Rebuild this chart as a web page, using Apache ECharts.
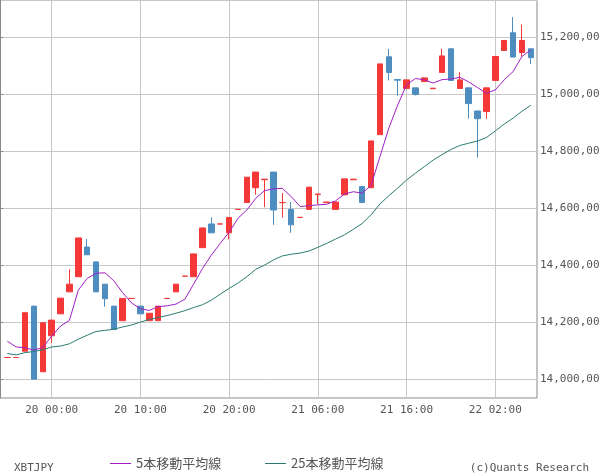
<!DOCTYPE html>
<html>
<head>
<meta charset="utf-8">
<script src="https://cdn.jsdelivr.net/npm/echarts@6/dist/echarts.min.js"></script>
<style>html,body{margin:0;padding:0;background:#fff}#c{width:600px;height:475px}</style>
</head>
<body>
<div id="c"></div>
<script>
var categories = [
 "19 19:00","19 20:00","19 21:00","19 22:00","19 23:00",
 "20 00:00","20 01:00","20 02:00","20 03:00","20 04:00","20 05:00","20 06:00","20 07:00","20 08:00","20 09:00",
 "20 10:00","20 11:00","20 12:00","20 13:00","20 14:00","20 15:00","20 16:00","20 17:00","20 18:00","20 19:00",
 "20 20:00","20 21:00","20 22:00","20 23:00","21 00:00","21 01:00","21 02:00","21 03:00","21 04:00","21 05:00",
 "21 06:00","21 07:00","21 08:00","21 09:00","21 10:00","21 11:00","21 12:00","21 13:00","21 14:00","21 15:00",
 "21 16:00","21 17:00","21 18:00","21 19:00","21 20:00","21 21:00","21 22:00","21 23:00","22 00:00","22 01:00",
 "22 02:00","22 03:00","22 04:00","22 05:00","22 06:00"
];
var openPrices = [
 14077000,14077000,14099000,14257000,14027000,14153000,14230000,14307000,14360000,14464000,
 14412000,14334000,14257000,14206000,14284000,14257000,14206000,14206000,14284000,14307000,
 14362000,14360000,14462000,14545000,14545000,14514000,14596000,14620000,14672000,14700000,
 14727000,14620000,14596000,14568000,14596000,14648000,14620000,14596000,14647000,14700000,
 14676000,14672000,14858000,15131000,15051000,15020000,15022000,15044000,15019000,15076000,
 15159000,15020000,15022000,14941000,14939000,15048000,15153000,15215000,15146000,15159000
];
var closePrices = [
 14077000,14077000,14234000,14001000,14199000,14208000,14285000,14334000,14496000,14437000,
 14307000,14283000,14175000,14284000,14284000,14230000,14232000,14257000,14284000,14334000,
 14362000,14440000,14531000,14514000,14545000,14568000,14596000,14709000,14727000,14702000,
 14594000,14620000,14542000,14568000,14674000,14650000,14622000,14622000,14703000,14702000,
 14620000,14836000,15106000,15076000,15049000,15050000,14999000,15057000,15021000,15134000,
 15048000,15050000,14967000,14914000,15022000,15132000,15188000,15130000,15188000,15128000
];
var lowPrices = [
 14077000,14077000,14099000,14001000,14027000,14128000,14230000,14307000,14360000,14437000,
 14307000,14255000,14175000,14206000,14284000,14230000,14206000,14206000,14284000,14307000,
 14362000,14360000,14462000,14514000,14545000,14491000,14596000,14620000,14648000,14604000,
 14542000,14568000,14514000,14568000,14596000,14615000,14620000,14596000,14647000,14700000,
 14620000,14672000,14858000,15048000,14995000,15020000,14995000,15044000,15019000,15076000,
 15048000,15020000,14914000,14778000,14914000,15048000,15153000,15130000,15132000,15105000
];
var highPrices = [
 14077000,14077000,14234000,14257000,14199000,14208000,14285000,14386000,14496000,14492000,
 14412000,14334000,14257000,14284000,14284000,14257000,14232000,14257000,14284000,14334000,
 14362000,14440000,14531000,14568000,14545000,14568000,14596000,14709000,14727000,14702000,
 14727000,14653000,14622000,14568000,14674000,14650000,14622000,14622000,14703000,14702000,
 14676000,14836000,15106000,15159000,15051000,15050000,15022000,15057000,15021000,15159000,
 15159000,15077000,15022000,14941000,15022000,15132000,15188000,15270000,15244000,15159000
];
var ma5 = [
 14134000,14114000,14111000,14103000,14112000,14152000,14187000,14207000,14313000,14354000,
 14372000,14374000,14346000,14304000,14268000,14248000,14242000,14255000,14258000,14264000,
 14281000,14334000,14389000,14436000,14477000,14516000,14565000,14594000,14635000,14662000,
 14668000,14670000,14641000,14606000,14609000,14612000,14614000,14626000,14650000,14658000,
 14653000,14680000,14781000,14881000,14962000,15033000,15055000,15050000,15039000,15051000,
 15053000,15059000,15043000,15023000,15003000,15015000,15050000,15079000,15132000,15155000
];
var ma25 = [
 14091000,14086000,14094000,14098000,14104000,14114000,14117000,14125000,14141000,14155000,
 14168000,14172000,14176000,14184000,14191000,14201000,14210000,14217000,14224000,14232000,
 14241000,14252000,14262000,14278000,14299000,14319000,14338000,14360000,14386000,14401000,
 14419000,14433000,14439000,14443000,14450000,14463000,14477000,14492000,14507000,14526000,
 14547000,14577000,14615000,14644000,14671000,14699000,14723000,14746000,14769000,14788000,
 14806000,14820000,14828000,14836000,14848000,14871000,14895000,14916000,14940000,14961000
];
var yMin = 13935000, yMax = 15330000;
var symbolName = "XBTJPY";
var ma5Name = "5本移動平均線", ma25Name = "25本移動平均線";
var creditText = "(c)Quants Research";

var candleData = categories.map(function (c, i) {
  return [openPrices[i], closePrices[i], lowPrices[i], highPrices[i]];
});
var RED = "#f43838", BLUE = "#4e8dc0", PURPLE = "#a020c4", TEAL = "#2b7b70";
var MONO = "'DejaVu Sans Mono', 'Liberation Mono', monospace";
var labelFn = function (idx) { return idx % 10 === 5; };

var chart = echarts.init(document.getElementById('c'), null, {renderer: 'canvas'});
chart.setOption({
  animation: false,
  backgroundColor: '#fff',
  title: [
    {text: symbolName, left: 9, top: 458, textStyle: {fontFamily: MONO, fontSize: 11, fontWeight: 'normal', color: '#555'}},
    {text: creditText, right: 6, top: 458, textStyle: {fontFamily: MONO, fontSize: 11, fontWeight: 'normal', color: '#555'}}
  ],
  legend: [
    {data: [ma5Name], left: 110, top: 457, icon: 'rect', itemWidth: 21, itemHeight: 1, padding: 0,
     textStyle: {fontFamily: "'Noto Sans CJK JP', sans-serif", fontSize: 13, color: '#555'}},
    {data: [ma25Name], left: 265, top: 457, icon: 'rect', itemWidth: 21, itemHeight: 1, padding: 0,
     textStyle: {fontFamily: "'Noto Sans CJK JP', sans-serif", fontSize: 13, color: '#555'}}
  ],
  grid: [
    {left: 7.3, right: 69.2, top: 0, height: 398, show: false, outerBoundsMode: 'none', containLabel: false},
    {left: 0.5, top: 0.5, width: 536.5, height: 397.5, show: true, borderColor: '#888', borderWidth: 1,
     backgroundColor: 'transparent', outerBoundsMode: 'none', containLabel: false}
  ],
  xAxis: [
    {type: 'category', gridIndex: 0, data: categories, boundaryGap: false,
     axisLine: {show: false}, axisTick: {show: false},
     axisLabel: {interval: labelFn, margin: 7, fontFamily: MONO, fontSize: 11, color: '#555'},
     splitLine: {show: true, interval: labelFn, lineStyle: {color: '#c8c8c8', width: 1}}},
    {type: 'value', gridIndex: 1, show: false, min: 0, max: 1, splitLine: {show: false}}
  ],
  yAxis: [
    {type: 'value', gridIndex: 0, min: yMin, max: yMax, show: false, splitLine: {show: false}},
    {type: 'value', gridIndex: 1, position: 'right', min: yMin, max: yMax, splitNumber: 7,
     axisLine: {show: true, lineStyle: {color: '#888'}},
     axisTick: {show: true, length: 3, lineStyle: {color: '#888'}},
     axisLabel: {margin: 3, showMinLabel: false, showMaxLabel: false, fontFamily: MONO, fontSize: 11, color: '#555',
       formatter: function (v) { return v.toLocaleString('en-US'); }},
     splitLine: {show: true, lineStyle: {color: '#c8c8c8', width: 1}}}
  ],
  series: [
    {type: 'candlestick', xAxisIndex: 0, yAxisIndex: 0, data: candleData, barWidth: 6, clip: false,
     itemStyle: {color: RED, color0: BLUE, borderColor: RED, borderColor0: BLUE, borderColorDoji: RED, borderWidth: 1}},
    {type: 'line', name: ma5Name, xAxisIndex: 0, yAxisIndex: 0, data: ma5, symbol: 'none', clip: false,
     lineStyle: {color: PURPLE, width: 1}, itemStyle: {color: PURPLE}},
    {type: 'line', name: ma25Name, xAxisIndex: 0, yAxisIndex: 0, data: ma25, symbol: 'none', clip: false,
     lineStyle: {color: TEAL, width: 1}, itemStyle: {color: TEAL}}
  ]
});
</script>
</body>
</html>
